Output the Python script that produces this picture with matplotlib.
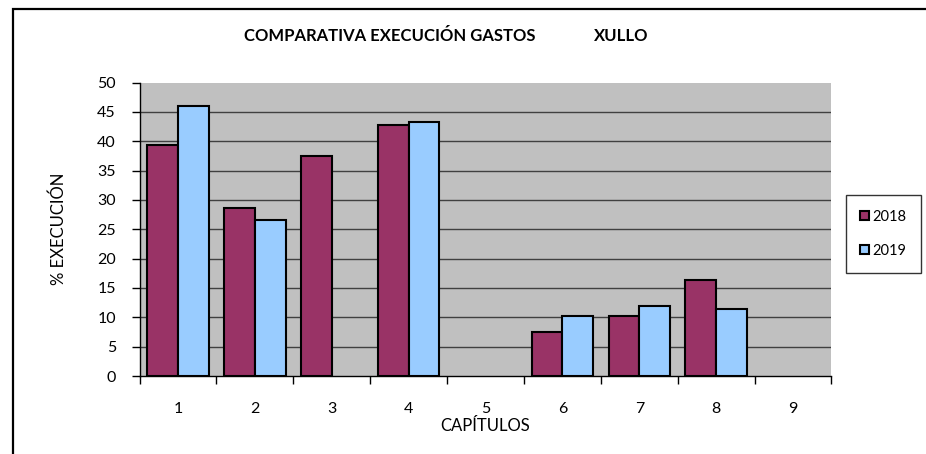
import matplotlib.pyplot as plt
from matplotlib.patches import Rectangle
from matplotlib.ticker import MultipleLocator
import numpy as np

plt.rcParams['font.family'] = ['Lato', 'DejaVu Sans']

# Data (nan = no bar)
capitulos = ['1', '2', '3', '4', '5', '6', '7', '8', '9']
exec_2018 = [39.4, 28.6, 37.5, 42.7, np.nan, 7.5, 10.3, 16.3, np.nan]
exec_2019 = [46.0, 26.5, np.nan, 43.3, np.nan, 10.3, 11.9, 11.4, np.nan]
years = ['2018', '2019']
colors = ['#993366', '#99CCFF']

fig = plt.figure(figsize=(9.26, 4.54), dpi=100)
ax = fig.add_axes([139.5/926, 78/454, 692/926, 293.5/454])
ax.set_facecolor('#C0C0C0')

x = np.arange(len(capitulos))
w = 0.4
for vals, off, col, lab in zip([exec_2018, exec_2019], [-w/2, w/2], colors, years):
    vals = np.array(vals, dtype=float)
    m = ~np.isnan(vals)
    ax.bar(x[m] + off, vals[m], width=w, color=col, edgecolor='black',
           linewidth=1.5, label=lab, zorder=3)

ax.set_xlim(-0.5, len(capitulos) - 0.5)
ax.set_ylim(0, 50)
ax.yaxis.set_major_locator(MultipleLocator(5))
ax.set_xticks(x)
ax.set_xticklabels(capitulos)
ax.set_xticks(np.arange(-0.5, len(capitulos)), minor=True)
ax.tick_params(axis='x', which='major', length=0, pad=19, labelsize=11.5)
ax.tick_params(axis='x', which='minor', length=6, width=1, color='black')
ax.tick_params(axis='y', length=6, width=1, labelsize=11.5, pad=11)

for yv in range(5, 50, 5):
    ax.axhline(yv, color='#404040', lw=1, zorder=1)

for s in ['top', 'right']:
    ax.spines[s].set_visible(False)
for s in ['left', 'bottom']:
    ax.spines[s].set_color('black')
    ax.spines[s].set_linewidth(1)

ax.set_xlabel('CAPÍTULOS', fontsize=12, labelpad=1)
ax.set_ylabel('% EXECUCIÓN', fontsize=12, labelpad=22)

fig.text(390/926, 1 - 36/454, 'COMPARATIVA EXECUCIÓN GASTOS', ha='center', va='center',
         fontsize=12, fontweight='bold')
fig.text(621/926, 1 - 36/454, 'XULLO', ha='center', va='center',
         fontsize=12, fontweight='bold')

leg = ax.legend(loc='upper left', bbox_to_anchor=(845.7/926, 1 - 195/454),
                bbox_transform=fig.transFigure, fontsize=10.5, frameon=True,
                fancybox=False, edgecolor='black', handlelength=0.6,
                handleheight=0.6, handletextpad=0.2, labelspacing=1.4,
                borderpad=1.0, borderaxespad=0)
leg.get_frame().set_linewidth(1)

fig.patches.append(Rectangle((12.5/926, -0.05), 1.0, 1 - 9.5/454 + 0.05,
                             transform=fig.transFigure, fill=False,
                             edgecolor='black', linewidth=1.6))

fig.savefig('out.png', dpi=100)
